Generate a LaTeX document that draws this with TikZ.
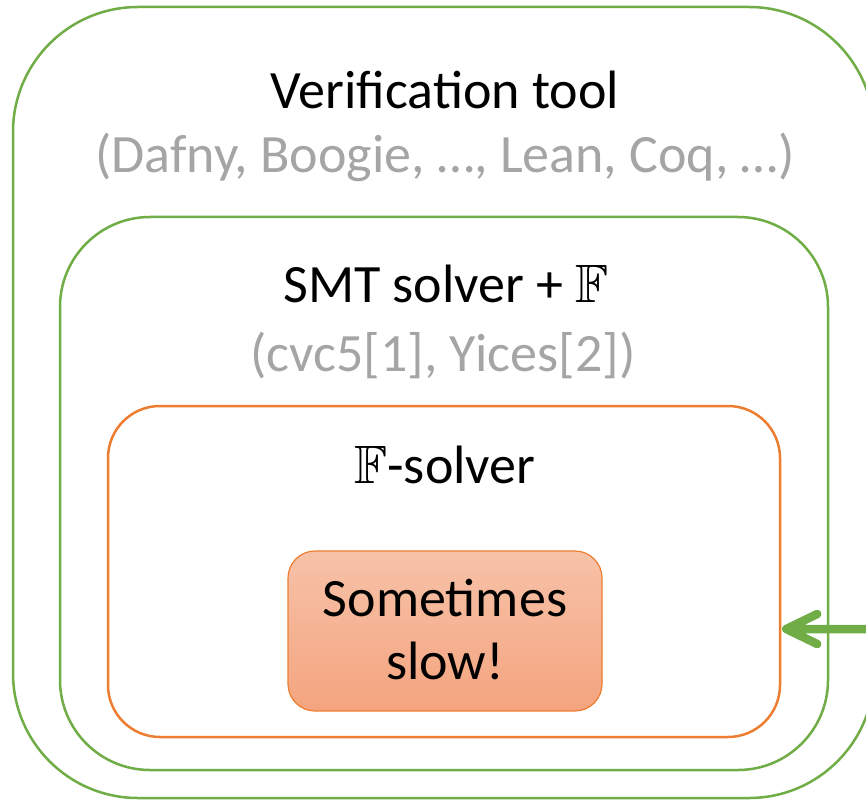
\documentclass[tikz,border=0pt]{standalone}
\usepackage{amssymb}
\usepackage{fontspec}
\setmainfont{Carlito}
\usetikzlibrary{calc}

\definecolor{boxgreen}{HTML}{70AD47}
\definecolor{boxorange}{HTML}{ED7D31}
\definecolor{notegray}{HTML}{A5A5A5}
\definecolor{filltop}{HTML}{F7C2A9}
\definecolor{fillbot}{HTML}{F4A47E}

\tikzset{
  layer/.style={draw, line width=2.5pt, rectangle, inner sep=0pt},
  title/.style={anchor=base, inner sep=0pt, font=\fontsize{54}{63}\selectfont},
  note/.style={title, text=notegray},
}

\begin{document}
\begin{tikzpicture}[x=1pt, y=-1pt]
  \useasboundingbox (0,0) rectangle (866,802);
  \begin{scope}
    \clip (0,0) rectangle (866,802);

    % nested layers
    \node[layer, boxgreen, minimum width=861pt, minimum height=791pt,
          rounded corners=125pt] (tool) at (443.5,402.5) {};
    \node[layer, boxgreen, minimum width=768pt, minimum height=553pt,
          rounded corners=90pt] (smt) at (444,493.5) {};
    \node[layer, boxorange, minimum width=672pt, minimum height=331pt,
          rounded corners=52pt] (ffsolver) at (444,571.5) {};
    \node[draw=boxorange, line width=1.2pt, rectangle, inner sep=0pt,
          minimum width=314pt, minimum height=160pt, rounded corners=27pt,
          top color=filltop, bottom color=fillbot, align=center,
          text depth=4pt,
          font=\fontsize{54}{63}\selectfont] (slow) at (445,631)
          {Sometimes\\slow!};

    % labels
    \node[title] (tooltitle) at (445,109) {Verification tool};
    \node[note] (toolnote) at (445,173) {(Dafny, Boogie, …, Lean, Coq, …)};
    \node[title] (smttitle) at (446,302) {SMT solver + $\mathbb{F}$};
    \node[note] (smtnote) at (443,371) {(cvc5[1], Yices[2])};
    \node[title] (fftitle) at (445,483) {$\mathbb{F}$-solver};

    % incoming arrow
    \coordinate (from) at (900,629);
    \coordinate (tip) at ($(ffsolver.east |- from)+(5,0)$);
    \draw[boxgreen, line width=8.5pt, line cap=round, line join=round]
      (from) -- (tip)
      ($(tip)+(31,-15)$) -- (tip) -- ($(tip)+(31,15)$);
  \end{scope}
\end{tikzpicture}
\end{document}
